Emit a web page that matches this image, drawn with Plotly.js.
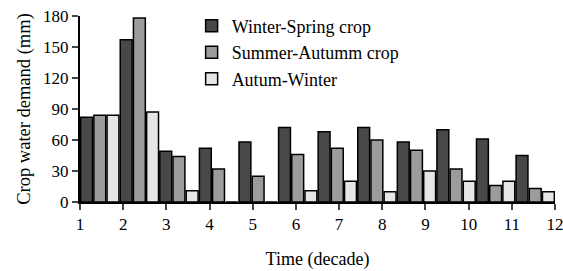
<!DOCTYPE html>
<html><head><meta charset="utf-8">
<script src="https://cdn.plot.ly/plotly-3.0.1.min.js"></script>
<style>html,body{margin:0;padding:0;background:#fff}#chart{width:563px;height:271px}</style>
</head><body><div id="chart"></div>
<script>
const groups = [1,2,3,4,5,6,7,8,9,10,11,12];
const winterSpring = [82,157,49,52,58,72,68,72,58,70,61,45];
const summerAutumn = [84,178,44,32,25,46,52,60,50,32,16,13];
const autumWinter  = [84,87,11,0,0,11,20,10,30,20,20,10];
const seriesNames = ['Winter-Spring crop','Summer-Autumm crop','Autum-Winter'];
const colors = ['#484848','#9c9c9c','#e6e6e6'];
const xTicks = [1,2,3,4,5,6,7,8,9,10,11,12];
const yTicks = [0,30,60,90,120,150,180];

const F = 'Liberation Serif, Times New Roman, serif';
const data = [winterSpring, summerAutumn, autumWinter].map((v,i)=>({
  type:'bar', x: groups, y: v, name: seriesNames[i], xaxis:'x2', yaxis:'y',
  marker:{color: colors[i], line:{color:'#000', width:1.5}}
}));
data.push({type:'scatter', x:[], y:[], xaxis:'x', yaxis:'y', showlegend:false, hoverinfo:'skip'});

const layout = {
  width:563, height:271,
  margin:{l:80, r:8, t:14, b:69},
  paper_bgcolor:'#fff', plot_bgcolor:'#fff',
  font:{family:F, size:17, color:'#000'},
  barmode:'group', bargap:0.0, bargroupgap:0.1,
  showlegend:true,
  legend:{x:0.235, y:1.045, xanchor:'left', yanchor:'top', bgcolor:'rgba(0,0,0,0)',
          font:{family:F, size:18, color:'#000'}, tracegroupgap:0},
  xaxis:{type:'linear', range:[1,12], tickvals:xTicks, ticktext:xTicks.map(String),
         showline:true, linecolor:'#000', linewidth:2, ticks:'outside', ticklen:6, tickwidth:2,
         showgrid:false, zeroline:false, tickfont:{family:F, size:17}, ticklabeloverflow:'allow',
         title:{text:'Time (decade)', font:{family:F, size:18}, standoff:19}},
  xaxis2:{type:'linear', range:[0.5,12.5], overlaying:'x', anchor:'y', visible:false, showgrid:false, zeroline:false},
  yaxis:{range:[0,180], tickvals:yTicks, showline:true, linecolor:'#000', linewidth:2,
         ticks:'outside', ticklen:6, tickwidth:2, showgrid:false, zeroline:false,
         tickfont:{family:F, size:17},
         title:{text:'Crop water demand (mm)', font:{family:F, size:18.5}, standoff:8}}
};
Plotly.newPlot('chart', data, layout, {displayModeBar:false, staticPlot:true});
</script></body></html>
